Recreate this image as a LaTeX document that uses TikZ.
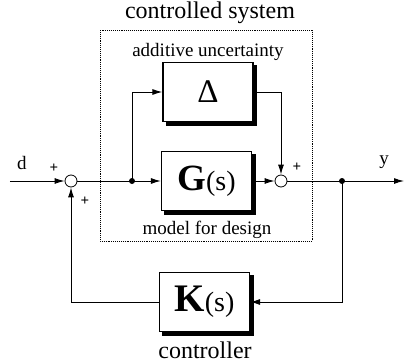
\documentclass[tikz,border=0pt]{standalone}
\usepackage{fontspec}
\setmainfont{Liberation Serif}
\usetikzlibrary{arrows.meta,positioning}
\pgfdeclarelayer{background}
\pgfsetlayers{background,main}
\tikzstyle{block} = [draw, fill=white, line width=1.2pt, minimum width=90pt, minimum height=59pt, inner sep=0pt]
\tikzstyle{summer} = [draw, fill=white, circle, line width=0.8pt, minimum size=12pt, inner sep=0pt]
\tikzstyle{junction} = [fill=black, circle, minimum size=6pt, inner sep=0pt]
\tikzstyle{conn} = [draw, line width=1pt, -{Latex[length=10pt,width=6pt]}]
\tikzstyle{wire} = [draw, line width=1pt]
\tikzstyle{frame} = [draw, densely dotted, line width=0.9pt]
\tikzstyle{caption} = [font=\rmfamily\fontsize{24}{24}\selectfont]
\tikzstyle{label} = [font=\rmfamily\fontsize{19}{19}\selectfont]
\tikzstyle{sign} = [font=\rmfamily\fontsize{15}{15}\selectfont\bfseries, inner sep=0pt]
\newcommand{\block}[2]{node (b#1) [block] {#2}}
\newcommand{\summer}[1]{node (s#1) [summer] {}}
\newcommand{\junction}[1]{node (j#1) [junction] {}}
\newcommand{\tf}[2]{{\fontsize{#2}{#2}\selectfont\bfseries #1}{\fontsize{28}{28}\selectfont(s)}}
\newcommand{\shadow}[1]{%
\begin{pgfonlayer}{background}
% black shadow offset down and right
\fill[black] ([shift={(3.5pt,-3.5pt)}]#1.south west) rectangle ([shift={(3.5pt,-3.5pt)}]#1.north east);
\end{pgfonlayer}}

\begin{document}
\begin{tikzpicture}[x=1pt,y=1pt]
\useasboundingbox (-71,-181) rectangle (333,181);
\path (0,0) \summer{1};
\path (s1)+(-61,0) coordinate (din);
\path (s1)+(135.5,0) \block{1}{\tf{G}{37}};
\path (b1)+(1.5,89) \block{2}{\fontsize{33}{33}\selectfont Δ};
\path (s1)+(210,0) \summer{2};
\path (s1)+(133.5,-121) \block{3}{\tf{K}{39}};
\path (s1)+(333,0) coordinate (yout);
\shadow{b1}
\shadow{b2}
\shadow{b3}
% controlled system frame
\path (b1)+(-106.5,151) coordinate (c1);
\path (b1)+(105.5,-60) coordinate (c2);
\path [frame] (c1) rectangle (c2);
% signals
\path [conn] (din) -- (s1.west);
\path [conn] (s1.east) -- (b1.west);
\path (s1)+(61,0) \junction{1};
\path [conn] (j1.center) |- (b2.west);
\path [conn] (b2.east) -| (s2.north);
\path [conn] (b1.east) -- (s2.west);
\path [conn] (s2.east) -- (yout);
\path (s1)+(271,0) \junction{2};
\path [conn] (j2.center) |- (b3.east);
\path [wire] (b3.west) -| ([yshift=-40pt]s1.south);
\path [conn] ([yshift=-41pt]s1.south) -- (s1.south);
% texts
\node[caption] (t1) at (139,168) {controlled system};
\node[label] (t2) at (137,129) {additive uncertainty};
\node[label] (t3) at (136,-49) {model for design};
\node[caption] (t4) at (134,-169) {controller};
\node[label] (t5) at (-49,18) {d};
\node[label] (t6) at (313,19) {y};
\node[sign] (p1) at (-17,13) {+};
\node[sign] (p2) at (14,-20) {+};
\node[sign] (p3) at (226,14) {+};
\end{tikzpicture}
\end{document}
